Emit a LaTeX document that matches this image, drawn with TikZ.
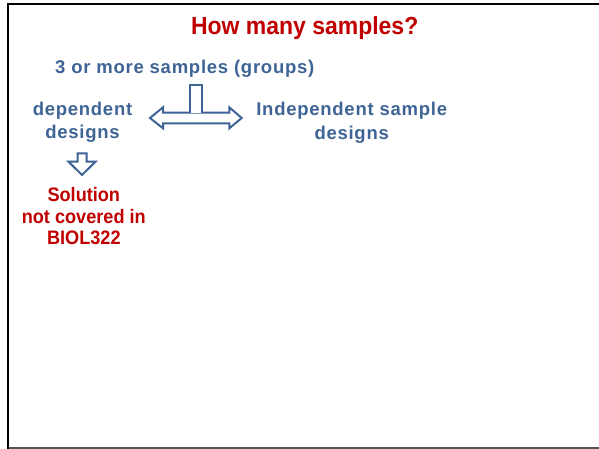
\documentclass[tikz,border=0pt]{standalone}
\usepackage{fontspec}
\setmainfont{Liberation Sans}
% slightly condensed bold for the red texts, slightly spaced bold for the blue ones
\newfontfamily\narrowbold[FakeStretch=0.93]{Liberation Sans Bold}
\newfontfamily\spacedbold[LetterSpace=4]{Liberation Sans Bold}
\definecolor{slateblue}{RGB}{62,100,150}
\definecolor{darkred}{RGB}{192,0,0}
\definecolor{framegray}{RGB}{85,85,85}
\begin{document}
\begin{tikzpicture}[x=1pt,y=-1pt,
  titletext/.style={text=darkred, font=\narrowbold\fontsize{24.7}{28}\selectfont, inner sep=0pt},
  bluetext/.style={text=slateblue, font=\spacedbold\fontsize{18.5}{23.5}\selectfont, align=center, inner sep=0pt},
  redtext/.style={text=darkred, font=\narrowbold\fontsize{19.5}{21.2}\selectfont, align=center, inner sep=0pt},
  blockarrow/.style={draw=slateblue, line width=2pt, fill=white, line join=miter},
  frameline/.style={line width=2.5pt, black},
]
\useasboundingbox (0,0) rectangle (599,449);

% slide frame: left and top edges in black, bottom edge in gray
\draw[line width=1.5pt, framegray] (8,448) -- (599,448);
\draw[frameline] (8,449) -- (8,4) -- (599,4);

% texts
\node[titletext, anchor=base] (title) at (304.7,34.3) {How many samples?};
\node[bluetext, anchor=base] (groups) at (184.7,74) {3 or more samples (groups)};
\node[bluetext, anchor=north] (dep) at (82.5,101.5) {dependent\\designs};
\node[bluetext, anchor=north] (indep) at (351.7,102.2) {Independent sample\\designs};
\node[redtext, anchor=north] (sol) at (83.8,187.5) {Solution\\not covered in\\BIOL322};

% double-headed block arrow with a stem on top
\draw[blockarrow] (150,118) -- (163,107.3) -- (163,112.7) -- (229.3,112.7) -- (229.3,107.3)
  -- (241.7,118) -- (229.3,128.3) -- (229.3,123.3) -- (163,123.3) -- (163,128.3) -- cycle;
\draw[blockarrow] (190,112.7) -- (190,85) -- (201.7,85) -- (201.7,112.7);

% downward block arrow
\draw[blockarrow] (77.5,153.3) -- (86.5,153.3) -- (86.5,161.7) -- (95.5,161.7) -- (82,175)
  -- (68.5,161.7) -- (77.5,161.7) -- cycle;
\end{tikzpicture}
\end{document}
